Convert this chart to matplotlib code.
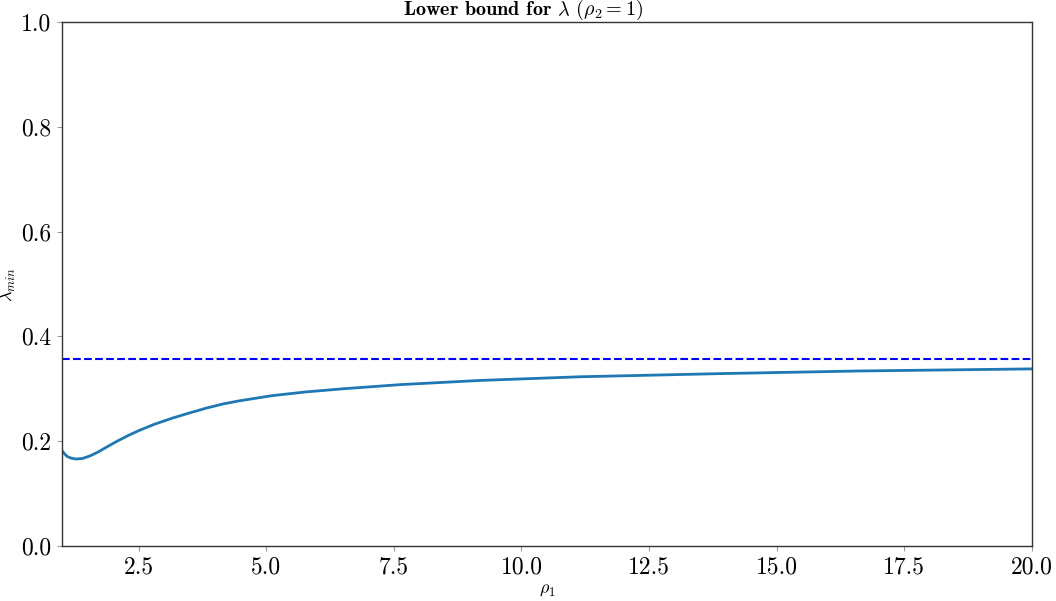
import matplotlib
matplotlib.use("Agg")
import matplotlib.pyplot as plt

# Data
rho1 = [1.0, 1.05, 1.1, 1.17, 1.27, 1.4, 1.55, 1.7, 1.86, 2.06, 2.3, 2.5, 2.8, 3.16, 3.5,
        3.82, 4.15, 4.47, 5.12, 5.77, 6.5, 7.63, 9.2, 11.16, 13.9, 16.6, 20.0]
lam_min = [0.182, 0.176, 0.171, 0.168, 0.166, 0.167, 0.172, 0.179, 0.188, 0.199, 0.211,
           0.220, 0.232, 0.244, 0.254, 0.263, 0.271, 0.277, 0.287, 0.294, 0.300, 0.308,
           0.316, 0.323, 0.329, 0.334, 0.338]
asymptote = 0.357

plt.rcParams['mathtext.fontset'] = 'cm'
plt.rcParams['font.family'] = 'serif'
plt.rcParams['font.serif'] = ['cmr10', 'DejaVu Serif']
plt.rcParams['axes.unicode_minus'] = False

fig = plt.figure(figsize=(10.56, 6.01), dpi=100)
ax = fig.add_axes([0.0587, 0.0915, 0.9186, 0.8719])

ax.plot(rho1, lam_min, color='#1f77b4', lw=2)
ax.axhline(asymptote, color='blue', ls='--', lw=1.5)

ax.set_xlim(1, 20)
ax.set_ylim(0, 1)
ax.set_xticks([2.5, 5.0, 7.5, 10.0, 12.5, 15.0, 17.5, 20.0])
ax.set_yticks([0.0, 0.2, 0.4, 0.6, 0.8, 1.0])
ax.set_xticklabels(['2.5', '5.0', '7.5', '10.0', '12.5', '15.0', '17.5', '20.0'])
ax.set_yticklabels(['0.0', '0.2', '0.4', '0.6', '0.8', '1.0'])
ax.tick_params(labelsize=17, length=3.5, width=0.8, color='#999999', pad=4)

for s in ax.spines.values():
    s.set_color('#333333')
    s.set_linewidth(1.0)

ax.set_title(r"Lower bound for $\lambda$ $(\rho_2 = 1)$", fontfamily='cmb10',
             fontsize=14.5, x=0.475, pad=2)
ax.set_xlabel(r"$\rho_1$", fontsize=13)
ax.set_ylabel(r"$\lambda_{min}$", fontsize=13)
ax.xaxis.set_label_coords(0.5, -0.07)
ax.yaxis.set_label_coords(-0.045, 0.5)

fig.savefig("out.png", dpi=100)
